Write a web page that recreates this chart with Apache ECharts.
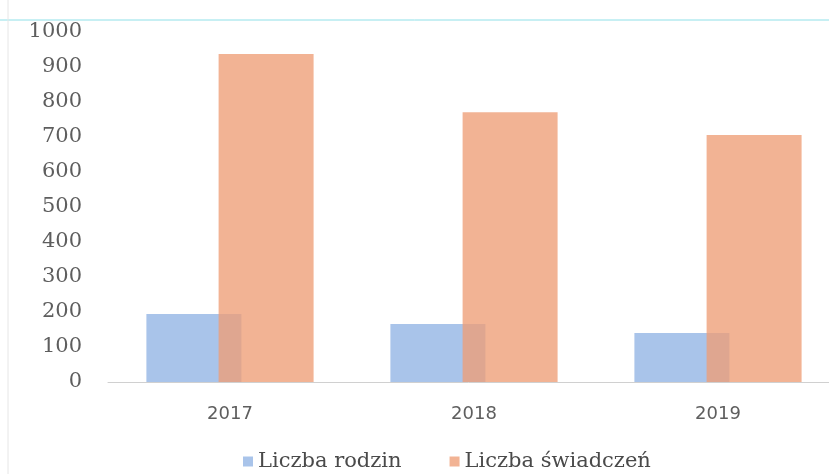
<!DOCTYPE html>
<html>
<head>
<meta charset="utf-8">
<script src="https://cdn.jsdelivr.net/npm/echarts@6/dist/echarts.min.js"></script>
<style>
  html, body { margin: 0; padding: 0; background: #fff; }
  #chart { width: 829px; height: 474px; }
</style>
</head>
<body>
<div id="chart"></div>
<script>
'use strict';

// ---- data ----
const years = ['2017', '2018', '2019'];
const families = [194, 166, 140];
const benefits = [937, 771, 706];
const yTicks = { min: 0, max: 1000, interval: 100 };

const C = { blue: '#a9c4ea', orange: 'rgba(238,158,118,0.78)', text: '#5e5e5e', axis: '#d0d0d0' };

const chart = echarts.init(document.getElementById('chart'));
chart.setOption({
  animation: false,
  grid: { left: 108, width: 732, top: 32, bottom: 92, outerBoundsMode: 'none' },
  legend: {
    bottom: -3, left: 238, itemGap: 48, itemWidth: 10, itemHeight: 10, icon: 'rect',
    textStyle: { fontFamily: 'DejaVu Serif', fontSize: 21, color: '#4a4a4a' },
    data: ['Liczba rodzin', 'Liczba świadczeń'],
  },
  xAxis: {
    type: 'category', data: years,
    axisLine: { lineStyle: { color: C.axis } }, axisTick: { show: false },
    axisLabel: { fontFamily: 'DejaVu Sans', fontSize: 18, color: C.text, margin: 23 },
  },
  yAxis: {
    type: 'value', ...yTicks,
    splitLine: { show: false }, axisLine: { show: false }, axisTick: { show: false },
    axisLabel: { fontFamily: 'DejaVu Serif', fontSize: 21, color: C.text, margin: 26, formatter: v => String(v) },
  },
  series: [
    { name: 'Liczba rodzin', type: 'bar', data: families, barWidth: 95, barGap: '-24%', itemStyle: { color: C.blue } },
    { name: 'Liczba świadczeń', type: 'bar', data: benefits, barWidth: 95, itemStyle: { color: C.orange } },
  ],
  graphic: [
    { type: 'line', silent: true, shape: { x1: 0, y1: 20, x2: 829, y2: 20 }, style: { stroke: '#8fe0e8', lineWidth: 1 } },
    { type: 'line', silent: true, shape: { x1: 8, y1: 0, x2: 8, y2: 474 }, style: { stroke: '#e6e6e6', lineWidth: 1 } },
  ],
});
</script>
</body>
</html>
